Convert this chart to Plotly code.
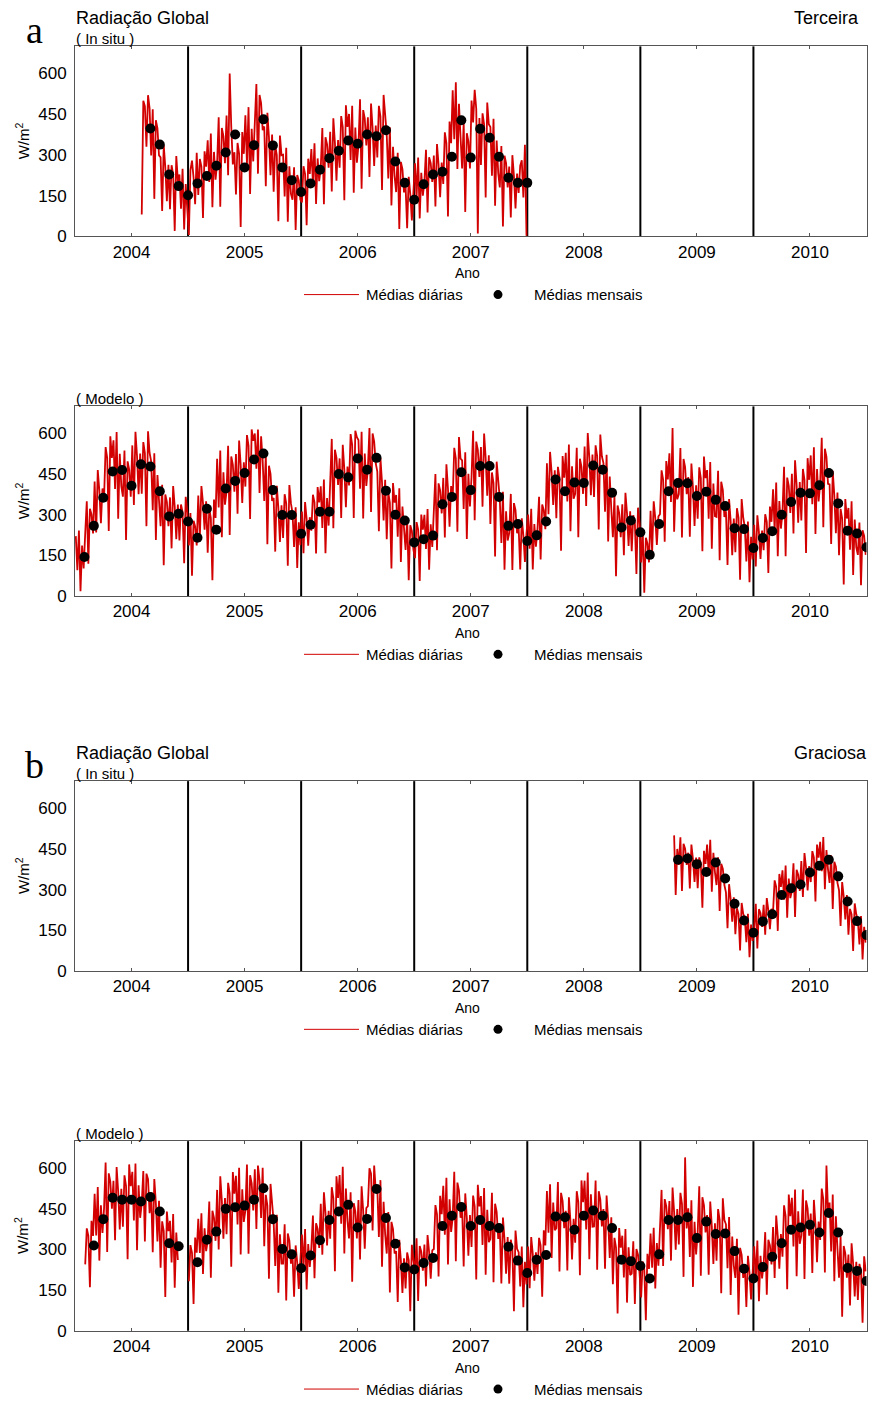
import plotly.graph_objects as go

W, H = 869, 1407

YEARS = [2004, 2005, 2006, 2007, 2008, 2009, 2010]
YEAR_LABELS = ["2004", "2005", "2006", "2007", "2008", "2009", "2010"]
Y_TICKS = [0, 150, 300, 450, 600]
Y_TICK_LABELS = ["0", "150", "300", "450", "600"]
Y_MAX = 700
SLOTS = 72  # daily series stored as 72 steps per year (6 per month)

# ---------------- Terceira, in situ ----------------
ter_insitu_monthly_2004 = [None, None, None, None, None, None, None, 397, 338, 228, 185, 151]
ter_insitu_monthly_2005 = [195, 222, 260, 309, 375, 254, 336, 431, 335, 254, 207, 163]
ter_insitu_monthly_2006 = [195, 245, 288, 315, 353, 341, 375, 369, 391, 276, 197, 135]
ter_insitu_monthly_2007 = [192, 228, 238, 293, 428, 290, 396, 363, 293, 216, 197, 197]

ter_insitu_daily_2004 = [None] * 42 + [
    80, 500, 480, 330, 520, 472, 298, 468, 138, 428, 398, 298,
    291, 93, 336, 255, 129, 264, 100, 262, 228, 20, 296, 204,
    228, 102, 249, 25, 193, 109]
ter_insitu_daily_2005 = [
    5, 244, 279, 216, 118, 308, 152, 285, 257, 68, 313, 257,
    354, 200, 379, 107, 311, 209, 269, 439, 109, 399, 369, 269,
    445, 225, 600, 405, 265, 310, 154, 344, 304, 34, 384, 304,
    446, 266, 476, 156, 396, 276, 391, 561, 231, 521, 491, 391,
    405, 185, 455, 365, 225, 375, 164, 335, 299, 56, 371, 299,
    301, 147, 326, 54, 258, 156, 135, 254, 23, 226, 205, 135]
ter_insitu_daily_2006 = [
    125, 258, 230, 41, 286, 230, 322, 196, 343, 119, 287, 203,
    254, 399, 118, 365, 339, 253, 385, 165, 435, 345, 205, 355,
    253, 443, 403, 133, 483, 403, 451, 281, 481, 161, 401, 271,
    335, 505, 175, 465, 435, 335, 439, 219, 489, 399, 259, 408,
    291, 481, 441, 171, 521, 441, 375, 213, 402, 114, 330, 222,
    163, 308, 27, 274, 248, 162, 184, 30, 219, 156, 58, 163]
ter_insitu_daily_2007 = [
    269, 143, 290, 66, 234, 150, 200, 319, 88, 291, 270, 200,
    298, 110, 340, 264, 144, 272, 193, 383, 343, 73, 423, 343,
    538, 358, 568, 248, 488, 366, 250, 420, 90, 380, 350, 250,
    500, 420, 540, 470, 10, 436, 263, 453, 413, 143, 493, 413,
    403, 223, 433, 113, 353, 233, 180, 333, 36, 297, 270, 180,
    257, 69, 299, 223, 103, 231, 160, 260, 280, 143, 337, 2]

# ---------------- Terceira, model ----------------
ter_model_monthly_2004 = [144, 259, 363, 460, 465, 407, 486, 478, 387, 294, 304, 275]
ter_model_monthly_2005 = [215, 322, 245, 397, 425, 454, 504, 526, 391, 299, 299, 230]
ter_model_monthly_2006 = [263, 311, 311, 450, 438, 508, 466, 510, 389, 300, 279, 198]
ter_model_monthly_2007 = [210, 223, 339, 366, 457, 391, 480, 480, 366, 259, 266, 203]
ter_model_monthly_2008 = [224, 275, 430, 387, 419, 417, 482, 466, 381, 253, 279, 235]
ter_model_monthly_2009 = [152, 266, 387, 417, 416, 369, 385, 355, 332, 250, 247, 177]
ter_model_monthly_2010 = [214, 239, 300, 347, 381, 379, 409, 454, 342, 241, 231, 180]

ter_model_daily_2004 = [
    221, 95, 242, 18, 186, 102, 231, 350, 119, 322, 301, 231,
    423, 235, 465, 389, 269, 397, 360, 550, 510, 240, 590, 510,
    575, 395, 605, 285, 525, 405, 367, 537, 207, 497, 467, 367,
    556, 336, 606, 516, 376, 526, 378, 568, 528, 258, 608, 528,
    497, 317, 527, 207, 447, 327, 258, 411, 114, 375, 348, 258,
    364, 176, 406, 330, 210, 338, 205, 338, 310, 121, 366, 310]
ter_model_daily_2005 = [
    187, 306, 75, 278, 257, 187, 371, 217, 406, 343, 245, 350,
    160, 322, 288, 58, 356, 288, 507, 327, 537, 217, 457, 337,
    385, 555, 225, 515, 485, 385, 524, 304, 574, 484, 344, 494,
    404, 594, 554, 284, 615, 573, 600, 470, 615, 380, 590, 500,
    351, 521, 191, 481, 451, 351, 362, 164, 407, 326, 200, 335,
    214, 376, 342, 112, 410, 342, 307, 181, 328, 104, 272, 188]
ter_model_daily_2006 = [
    312, 158, 347, 284, 186, 291, 241, 374, 346, 157, 402, 346,
    405, 251, 430, 158, 362, 260, 410, 580, 250, 540, 510, 410,
    508, 288, 558, 468, 328, 478, 408, 598, 558, 288, 610, 586,
    576, 396, 606, 286, 526, 406, 470, 620, 310, 600, 570, 490,
    459, 239, 509, 419, 279, 429, 210, 381, 345, 102, 417, 345,
    373, 219, 398, 126, 330, 228, 170, 289, 58, 261, 240, 170]
ter_model_daily_2007 = [
    140, 273, 245, 56, 301, 245, 300, 174, 321, 97, 265, 181,
    305, 450, 169, 416, 390, 305, 436, 216, 486, 396, 256, 406,
    357, 547, 507, 237, 587, 507, 501, 321, 531, 211, 451, 331,
    440, 610, 280, 570, 540, 440, 550, 330, 600, 510, 370, 520,
    266, 456, 416, 146, 496, 416, 358, 196, 385, 97, 313, 205,
    232, 377, 96, 343, 317, 232, 252, 98, 287, 224, 126, 231]
ter_model_daily_2008 = [
    301, 175, 322, 98, 266, 182, 247, 366, 135, 338, 317, 247,
    490, 302, 532, 456, 336, 464, 287, 477, 437, 167, 517, 437,
    529, 349, 559, 239, 479, 359, 377, 547, 217, 507, 477, 377,
    552, 332, 602, 512, 372, 522, 366, 556, 516, 246, 596, 516,
    491, 311, 521, 201, 441, 321, 217, 370, 73, 334, 307, 217,
    339, 151, 381, 305, 185, 313, 165, 298, 270, 81, 326, 270]
ter_model_daily_2009 = [
    124, 243, 12, 215, 194, 124, 315, 161, 350, 287, 189, 294,
    302, 464, 430, 200, 498, 430, 527, 347, 620, 237, 414, 357,
    376, 546, 216, 506, 476, 376, 439, 219, 489, 399, 259, 409,
    285, 475, 435, 165, 515, 435, 465, 285, 495, 175, 415, 295,
    292, 462, 132, 422, 392, 292, 313, 115, 358, 277, 151, 286,
    162, 324, 290, 60, 358, 290, 254, 128, 275, 51, 219, 135]
ter_model_daily_2010 = [
    263, 109, 298, 235, 137, 242, 169, 302, 274, 85, 330, 274,
    394, 240, 419, 147, 351, 249, 307, 477, 147, 437, 407, 307,
    451, 231, 501, 411, 271, 421, 279, 469, 429, 159, 509, 429,
    519, 339, 549, 229, 469, 349, 414, 584, 254, 544, 514, 414,
    412, 192, 462, 372, 232, 382, 151, 322, 286, 43, 358, 286,
    325, 171, 350, 78, 282, 180, 152, 271, 40, 243, 222, 152]

# ---------------- Graciosa, in situ ----------------
gra_insitu_monthly_2009 = [None, None, None, 410, 415, 394, 365, 400, 341, 248, 186, 141]
gra_insitu_monthly_2010 = [183, 209, 280, 305, 319, 363, 388, 410, 349, 256, 184, 133]

gra_insitu_daily_2009 = [None] * 21 + [
    500, 280, 450,
    391, 493, 295, 469, 451, 391, 436, 304, 466, 412, 328, 418,
    305, 419, 395, 233, 443, 395, 466, 358, 484, 292, 436, 364,
    317, 419, 221, 395, 377, 317, 290, 158, 320, 266, 182, 272,
    136, 231, 211, 76, 251, 211, 196, 106, 211, 51, 171, 111]
gra_insitu_daily_2010 = [
    163, 248, 83, 228, 213, 163, 244, 134, 269, 224, 154, 229,
    220, 334, 310, 148, 358, 310, 371, 263, 389, 197, 341, 269,
    295, 397, 199, 373, 355, 295, 405, 273, 435, 381, 297, 387,
    328, 442, 418, 256, 466, 418, 476, 368, 494, 302, 446, 374,
    325, 427, 229, 403, 385, 325, 298, 166, 328, 274, 190, 280,
    134, 229, 209, 74, 249, 209, 188, 98, 203, 43, 163, 105]

# ---------------- Graciosa, model ----------------
gra_model_monthly_2004 = [None, 315, 412, 491, 484, 484, 477, 494, 440, 323, 312, None]
gra_model_monthly_2005 = [253, 336, 366, 450, 456, 462, 484, 526, 412, 302, 282, 231]
gra_model_monthly_2006 = [278, 334, 409, 440, 465, 381, 413, 523, 416, 321, 234, 226]
gra_model_monthly_2007 = [250, 269, 387, 425, 457, 387, 409, 387, 379, 310, 259, 213]
gra_model_monthly_2008 = [262, 280, 422, 419, 373, 425, 444, 425, 379, 262, 257, 239]
gra_model_monthly_2009 = [193, 282, 409, 409, 419, 342, 403, 357, 359, 294, 229, 193]
gra_model_monthly_2010 = [235, 273, 323, 373, 381, 391, 363, 435, 363, 232, 221, 184]

gra_model_daily_2004 = [None] * 6 + [
    245, 378, 350, 161, 406, 350,
    506, 352, 531, 259, 463, 361, 451, 621, 291, 581, 551, 451,
    554, 334, 604, 514, 374, 524, 384, 574, 534, 264, 614, 534,
    587, 407, 617, 297, 537, 417, 470, 590, 330, 580, 560, 434,
    510, 290, 560, 470, 330, 480, 233, 404, 368, 125, 440, 368,
    406, 252, 431, 159, 363, 261] + [None] * 6
gra_model_daily_2005 = [
    183, 316, 288, 99, 344, 288, 413, 287, 434, 210, 378, 294,
    332, 477, 196, 443, 417, 332, 520, 300, 570, 480, 340, 490,
    356, 546, 506, 236, 586, 506, 572, 392, 602, 282, 522, 402,
    444, 614, 284, 574, 544, 444, 596, 376, 610, 556, 416, 602,
    312, 502, 462, 192, 542, 462, 401, 239, 428, 140, 356, 248,
    248, 393, 112, 359, 333, 248, 280, 126, 315, 252, 154, 259]
gra_model_daily_2006 = [
    355, 229, 376, 152, 320, 236, 306, 425, 194, 397, 376, 306,
    469, 281, 511, 435, 315, 443, 340, 530, 490, 220, 570, 490,
    575, 395, 605, 285, 525, 405, 341, 511, 181, 471, 441, 341,
    483, 263, 533, 443, 303, 453, 460, 600, 580, 370, 610, 518,
    526, 346, 556, 236, 476, 356, 285, 438, 141, 402, 375, 285,
    294, 106, 336, 260, 140, 268, 156, 289, 261, 72, 317, 261]
gra_model_daily_2007 = [
    222, 341, 110, 313, 292, 222, 318, 164, 353, 290, 192, 297,
    302, 464, 430, 200, 498, 430, 535, 355, 565, 245, 485, 365,
    417, 587, 257, 547, 517, 417, 457, 237, 507, 417, 277, 427,
    309, 499, 459, 189, 539, 459, 497, 317, 527, 207, 447, 327,
    339, 509, 179, 469, 439, 339, 373, 175, 418, 337, 211, 346,
    174, 336, 302, 72, 370, 302, 290, 164, 311, 87, 255, 171]
gra_model_daily_2008 = [
    311, 157, 346, 283, 185, 290, 210, 343, 315, 126, 371, 315,
    516, 362, 541, 269, 473, 371, 379, 549, 219, 509, 479, 379,
    443, 223, 493, 403, 263, 413, 325, 515, 475, 205, 555, 475,
    554, 374, 584, 264, 504, 384, 385, 555, 225, 515, 485, 385,
    449, 229, 499, 409, 269, 419, 172, 343, 307, 64, 379, 307,
    351, 197, 376, 104, 308, 206, 211, 330, 99, 302, 281, 211]
gra_model_daily_2009 = [
    123, 256, 228, 39, 284, 228, 359, 233, 380, 156, 324, 240,
    375, 520, 239, 486, 460, 375, 479, 259, 529, 439, 299, 449,
    319, 509, 469, 199, 640, 378, 452, 272, 482, 162, 402, 282,
    363, 533, 203, 493, 463, 363, 427, 207, 477, 387, 247, 397,
    259, 449, 409, 139, 489, 409, 393, 231, 420, 132, 348, 240,
    195, 340, 59, 306, 280, 195, 242, 88, 277, 214, 116, 221]
gra_model_daily_2010 = [
    312, 186, 333, 109, 277, 193, 245, 364, 133, 336, 315, 245,
    383, 195, 425, 349, 229, 357, 273, 463, 423, 153, 503, 423,
    491, 311, 521, 201, 441, 321, 351, 521, 191, 481, 451, 351,
    433, 213, 483, 393, 253, 403, 335, 525, 485, 215, 610, 440,
    473, 293, 503, 183, 423, 303, 196, 349, 52, 313, 286, 196,
    281, 93, 323, 247, 127, 255, 114, 247, 219, 30, 275, 219]

# ---------------- styling ----------------
RED = "rgb(210,0,0)"
SANS = "Liberation Sans, Arial, sans-serif"
SERIF = "Liberation Serif, Times New Roman, serif"
AXIS_GRAY = "#555555"

# panel boxes in pixels (top, bottom); x extent is shared
X_LEFT, X_RIGHT = 75.0, 866.5
PANELS = [(46.7, 238.0), (409.3, 600.3), (786.7, 978.0), (1149.3, 1340.3)]


def fx(px):
    return px / W


def fy(py):
    return 1 - py / H


def daily_xy(series):
    xs, ys = [], []
    for year, values in series:
        for i, v in enumerate(values):
            xs.append(year + (i + 0.5) / SLOTS)
            ys.append(v)
    return xs, ys


def monthly_xy(series):
    xs, ys = [], []
    for year, values in series:
        for m, v in enumerate(values, start=1):
            if v is not None:
                xs.append(year + m / 12)
                ys.append(v)
    return xs, ys


panel_data = [
    (
        [(2004, ter_insitu_daily_2004), (2005, ter_insitu_daily_2005),
         (2006, ter_insitu_daily_2006), (2007, ter_insitu_daily_2007)],
        [(2004, ter_insitu_monthly_2004), (2005, ter_insitu_monthly_2005),
         (2006, ter_insitu_monthly_2006), (2007, ter_insitu_monthly_2007)],
    ),
    (
        [(2004, ter_model_daily_2004), (2005, ter_model_daily_2005),
         (2006, ter_model_daily_2006), (2007, ter_model_daily_2007),
         (2008, ter_model_daily_2008), (2009, ter_model_daily_2009),
         (2010, ter_model_daily_2010)],
        [(2004, ter_model_monthly_2004), (2005, ter_model_monthly_2005),
         (2006, ter_model_monthly_2006), (2007, ter_model_monthly_2007),
         (2008, ter_model_monthly_2008), (2009, ter_model_monthly_2009),
         (2010, ter_model_monthly_2010)],
    ),
    (
        [(2009, gra_insitu_daily_2009), (2010, gra_insitu_daily_2010)],
        [(2009, gra_insitu_monthly_2009), (2010, gra_insitu_monthly_2010)],
    ),
    (
        [(2004, gra_model_daily_2004), (2005, gra_model_daily_2005),
         (2006, gra_model_daily_2006), (2007, gra_model_daily_2007),
         (2008, gra_model_daily_2008), (2009, gra_model_daily_2009),
         (2010, gra_model_daily_2010)],
        [(2004, gra_model_monthly_2004), (2005, gra_model_monthly_2005),
         (2006, gra_model_monthly_2006), (2007, gra_model_monthly_2007),
         (2008, gra_model_monthly_2008), (2009, gra_model_monthly_2009),
         (2010, gra_model_monthly_2010)],
    ),
]

fig = go.Figure()
layout = dict(
    width=W, height=H,
    margin=dict(l=0, r=0, t=0, b=0),
    paper_bgcolor="white", plot_bgcolor="white",
    showlegend=False,
    font=dict(family=SANS, color="black"),
)
shapes, annotations = [], []

for k, ((daily, monthly), (top, bottom)) in enumerate(zip(panel_data, PANELS), start=1):
    suffix = "" if k == 1 else str(k)
    xref, yref = "x" + suffix, "y" + suffix

    dx, dy = daily_xy(daily)
    fig.add_trace(go.Scatter(
        x=dx, y=dy, mode="lines", line=dict(color=RED, width=1.8),
        connectgaps=False, hoverinfo="skip", xaxis=xref, yaxis=yref))
    mx, my = monthly_xy(monthly)
    fig.add_trace(go.Scatter(
        x=mx, y=my, mode="markers", marker=dict(color="black", size=10),
        xaxis=xref, yaxis=yref))

    layout["xaxis" + suffix] = dict(
        domain=[fx(X_LEFT), fx(X_RIGHT)], anchor=yref,
        range=[YEARS[0], YEARS[-1] + 1],
        tickvals=[y + 0.5 for y in YEARS], ticktext=YEAR_LABELS,
        tickfont=dict(size=17, family=SANS, color="black"),
        ticks="inside", ticklen=3, tickcolor=AXIS_GRAY,
        showline=True, linecolor=AXIS_GRAY, linewidth=1, mirror="ticks",
        showgrid=False, zeroline=False, fixedrange=True,
    )
    layout["yaxis" + suffix] = dict(
        domain=[fy(bottom), fy(top)], anchor=xref,
        range=[0, Y_MAX],
        tickvals=Y_TICKS, ticktext=Y_TICK_LABELS,
        tickfont=dict(size=17, family=SANS, color="black"),
        ticks="", ticklabelstandoff=4,
        showline=True, linecolor=AXIS_GRAY, linewidth=1, mirror=True,
        showgrid=False, zeroline=False, fixedrange=True,
    )

    # year boundaries
    for yr in YEARS[1:]:
        shapes.append(dict(
            type="line", xref=xref, yref=yref + " domain",
            x0=yr, x1=yr, y0=0, y1=1, layer="below",
            line=dict(color="black", width=2)))

    # y-axis title
    annotations.append(dict(
        text="W/m<sup>2</sup>", textangle=-90, showarrow=False,
        xref="paper", yref="paper", x=fx(22), y=fy((top + bottom) / 2),
        xanchor="center", yanchor="middle", font=dict(size=15, family=SANS)))
    # x-axis title
    annotations.append(dict(
        text="Ano", showarrow=False, xref="paper", yref="paper",
        x=fx(468), y=fy(bottom + 37), xanchor="center", yanchor="middle",
        font=dict(size=14, family=SANS)))

    # legend row
    ly = bottom + 58.7
    shapes.append(dict(type="line", xref="paper", yref="paper",
                       x0=fx(304), x1=fx(359), y0=fy(ly), y1=fy(ly),
                       line=dict(color=RED, width=1)))
    annotations.append(dict(
        text="Médias diárias", showarrow=False, xref="paper", yref="paper",
        x=fx(364), y=fy(ly), xanchor="left", yanchor="middle",
        font=dict(size=15, family=SANS)))
    shapes.append(dict(type="circle", xref="paper", yref="paper",
                       x0=fx(498 - 4.5), x1=fx(498 + 4.5),
                       y0=fy(ly + 4.5), y1=fy(ly - 4.5),
                       fillcolor="black", line=dict(color="black", width=0)))
    annotations.append(dict(
        text="Médias mensais", showarrow=False, xref="paper", yref="paper",
        x=fx(532), y=fy(ly), xanchor="left", yanchor="middle",
        font=dict(size=15, family=SANS)))

    # panel subtitle
    sub = "( In situ )" if k in (1, 3) else "( Modelo )"
    annotations.append(dict(
        text=sub, showarrow=False, xref="paper", yref="paper",
        x=fx(74), y=fy(top - 8), xanchor="left", yanchor="middle",
        font=dict(size=15, family=SANS)))

# block headings
for letter, island, top in (("a", "Terceira", PANELS[0][0]), ("b", "Graciosa", PANELS[2][0])):
    annotations.append(dict(
        text="Radiação Global", showarrow=False, xref="paper", yref="paper",
        x=fx(74), y=fy(top - 28.5), xanchor="left", yanchor="middle",
        font=dict(size=18, family=SANS)))
    annotations.append(dict(
        text=island, showarrow=False, xref="paper", yref="paper",
        x=fx(792), y=fy(top - 28.5), xanchor="left", yanchor="middle",
        font=dict(size=18, family=SANS)))
    annotations.append(dict(
        text=letter, showarrow=False, xref="paper", yref="paper",
        x=fx(34), y=fy(top - 16), xanchor="center", yanchor="middle",
        font=dict(size=38, family=SERIF)))

layout["shapes"] = shapes
layout["annotations"] = annotations
fig.update_layout(**layout)

fig.write_html("out.html")
